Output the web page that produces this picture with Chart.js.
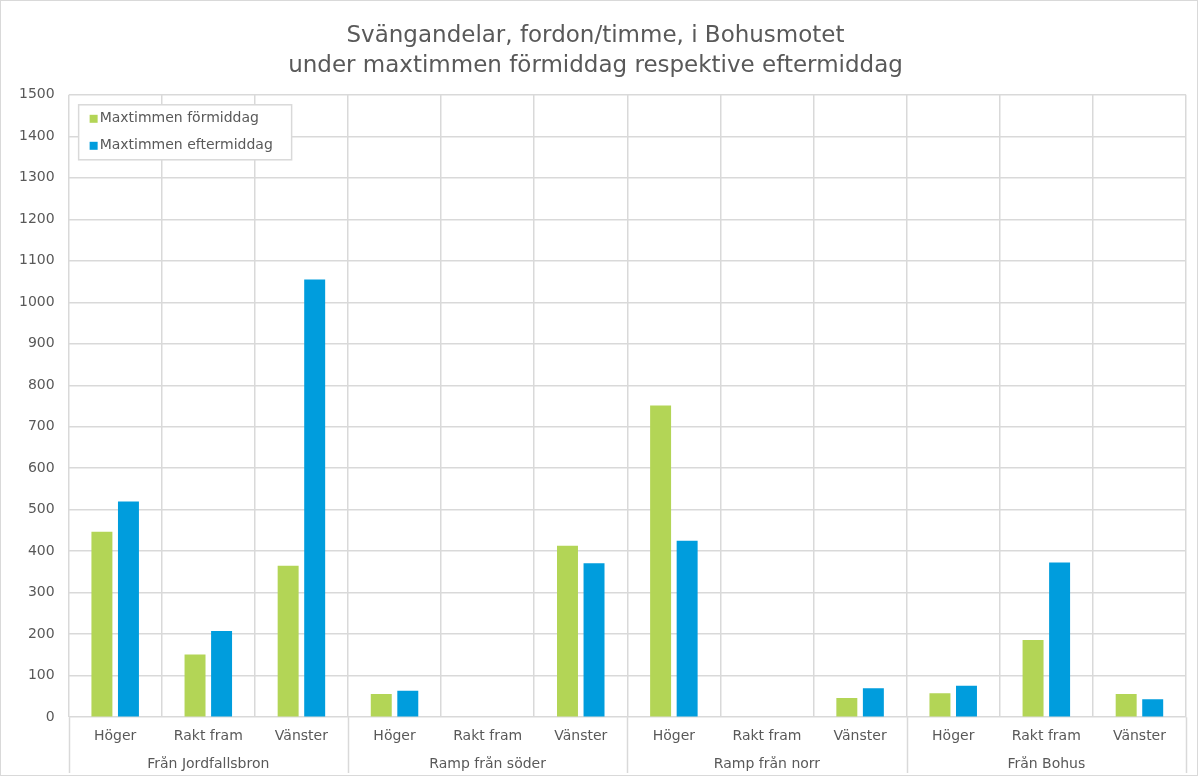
<!DOCTYPE html>
<html>
<head>
<meta charset="utf-8">
<script src="https://cdn.jsdelivr.net/npm/chart.js@4/dist/chart.umd.min.js"></script>
<style>
    body { margin: 0; background: #fff; }
    #wrap { width: 1198px; height: 776px; box-sizing: border-box; border: 1px solid #d9d9d9; }
    canvas { display: block; }
</style>
</head>
<body>
<div id="wrap"><canvas id="chart" width="1196" height="774"></canvas></div>
<script>
const groups = ['Från Jordfallsbron', 'Ramp från söder', 'Ramp från norr', 'Från Bohus']
const directions = ['Höger', 'Rakt fram', 'Vänster']
const morning = [447, 151, 365, 56, 0, 413, 751, 0, 46, 58, 186, 56]
const afternoon = [520, 208, 1055, 64, 0, 371, 425, 0, 70, 76, 373, 43]
const yTicks = [0, 100, 200, 300, 400, 500, 600, 700, 800, 900, 1000, 1100, 1200, 1300, 1400, 1500]

const labels = []
groups.forEach(() => directions.forEach(d => labels.push(d)))

const textColor = '#595959'
const gridColor = '#d9d9d9'
const font = 'DejaVu Sans'

// legend box inside the plot, top left
const boxLegend = {
    id: 'boxLegend',
    afterDraw(chart) {
        const c = chart.ctx
        const area = chart.chartArea
        const x = area.left + 10, y = area.top + 10, w = 213, h = 55
        c.save()
        c.fillStyle = '#fff'
        c.fillRect(x, y, w, h)
        c.strokeStyle = gridColor
        c.lineWidth = 1.5
        c.strokeRect(x, y, w, h)
        c.font = '14px ' + font
        c.textBaseline = 'middle'
        chart.data.datasets.forEach((ds, i) => {
            const cy = y + 14 + i * 27
            c.fillStyle = ds.backgroundColor
            c.fillRect(x + 11, cy - 4, 8, 8)
            c.fillStyle = textColor
            c.fillText(ds.label, x + 21, cy)
        })
        c.restore()
    }
}

// long dividers between the groups under the x axis
const groupLines = {
    id: 'groupLines',
    afterDraw(chart) {
        const c = chart.ctx
        const xs = chart.scales.x
        const half = (xs.getPixelForValue(1) - xs.getPixelForValue(0)) / 2
        c.save()
        c.strokeStyle = gridColor
        c.lineWidth = 1.5
        for (let i = 0; i <= labels.length; i += directions.length) {
            const px = Math.round(xs.getPixelForValue(i) - half) + 0.5
            c.beginPath()
            c.moveTo(px, chart.chartArea.bottom)
            c.lineTo(px, chart.height - 2)
            c.stroke()
        }
        c.restore()
    }
}

new Chart(document.getElementById('chart'), {
    type: 'bar',
    data: {
        labels: labels,
        datasets: [{
            label: 'Maxtimmen förmiddag',
            data: morning,
            backgroundColor: '#b3d556',
            borderWidth: 0
        }, {
            label: 'Maxtimmen eftermiddag',
            data: afternoon,
            backgroundColor: '#009ddd',
            borderWidth: 0
        }]
    },
    options: {
        responsive: false,
        animation: false,
        categoryPercentage: 0.57,
        barPercentage: 0.79,
        layout: { padding: { left: 4, right: 11, bottom: 3 } },
        plugins: {
            legend: { display: false },
            tooltip: { enabled: false },
            title: {
                display: true,
                text: ['Svängandelar, fordon/timme, i Bohusmotet', 'under maxtimmen förmiddag respektive eftermiddag'],
                color: textColor,
                font: { family: font, size: 23, weight: 'normal', lineHeight: 1.3 },
                padding: { top: 20, bottom: 14 }
            }
        },
        scales: {
            x: {
                grid: { color: gridColor, lineWidth: 1.5, drawTicks: false, offset: true },
                border: { display: false },
                ticks: { color: textColor, font: { family: font, size: 14 }, padding: 11, maxRotation: 0, autoSkip: false }
            },
            x2: {
                type: 'category',
                position: 'bottom',
                labels: groups,
                offset: true,
                grid: { display: false, drawTicks: false },
                border: { display: false },
                ticks: { color: textColor, font: { family: font, size: 14, lineHeight: 1.0 }, padding: 1 }
            },
            y: {
                min: 0,
                max: 1500,
                afterBuildTicks: axis => { axis.ticks = yTicks.map(v => ({ value: v })) },
                grid: { color: gridColor, lineWidth: 1.5, drawTicks: false },
                border: { display: false },
                ticks: { color: textColor, font: { family: font, size: 14 }, padding: 14, callback: v => String(v) }
            }
        }
    },
    plugins: [boxLegend, groupLines]
});
</script>
</body>
</html>
